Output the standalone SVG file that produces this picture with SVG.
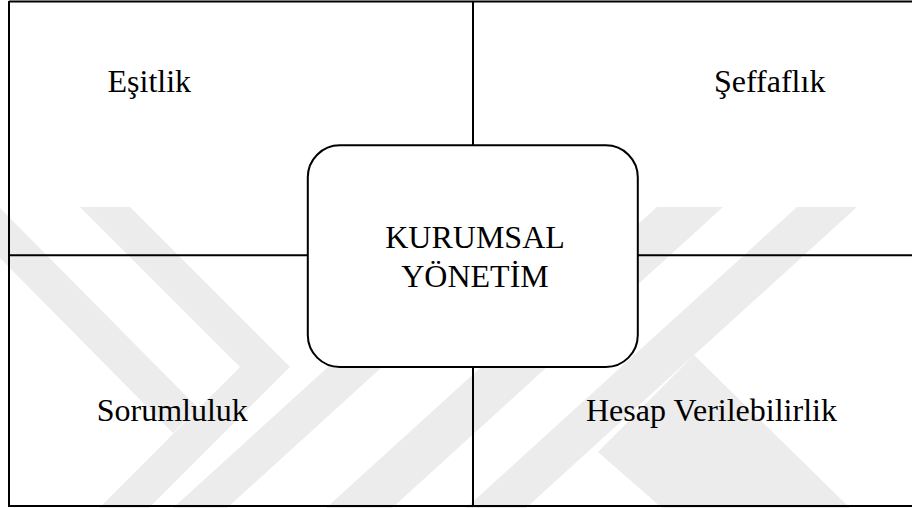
<svg xmlns="http://www.w3.org/2000/svg" width="912" height="508" viewBox="0 0 912 508">
<style>
.wm{fill:#ececec;stroke:none}
.ln{stroke:#000;stroke-width:2;fill:none}
.lbl{font-family:"Liberation Serif","Times New Roman",serif;font-size:32px;fill:#000}
</style>
<rect width="912" height="508" fill="#fff"/>
<g id="watermark">
<polygon class="wm" points="80,207 130,207 290,367 149,508 99,508 240,367"/>
<polygon class="wm" points="0,208 198,408 173,433 0,258"/>
<polygon class="wm" points="173,508 227,508 382,367 328,367"/>
<polygon class="wm" points="657,207 723,207 392,508 326,508"/>
<polygon class="wm" points="797,207 857,207 526,508 466,508"/>
<polygon class="wm" points="694,355 850,508 662,508 598,452"/>
</g>
<g id="connectors">
<line class="ln" x1="9" y1="1.5" x2="912" y2="1.5"/>
<line class="ln" x1="9" y1="1" x2="9" y2="507"/>
<line class="ln" x1="9" y1="506" x2="912" y2="506"/>
<line class="ln" x1="473" y1="1" x2="473" y2="145"/>
<line class="ln" x1="473" y1="367" x2="473" y2="506"/>
<line class="ln" x1="9" y1="255.3" x2="308" y2="255.3"/>
<line class="ln" x1="638" y1="255.3" x2="912" y2="255.3"/>
</g>
<g id="esitlik"><text class="lbl" x="107.5" y="92">Eşitlik</text></g>
<g id="seffaflik"><text class="lbl" x="714" y="92">Şeffaflık</text></g>
<g id="sorumluluk"><text class="lbl" x="96.7" y="421">Sorumluluk</text></g>
<g id="hesap"><text class="lbl" x="586" y="421">Hesap Verilebilirlik</text></g>
<g id="kurumsal">
<rect x="307.8" y="145.3" width="330" height="221.7" rx="32" ry="32" fill="#fff" stroke="#000" stroke-width="2"/>
<text class="lbl" x="475" y="248.3" text-anchor="middle">KURUMSAL</text>
<text class="lbl" x="475" y="287.3" text-anchor="middle">YÖNETİM</text>
</g>
</svg>
